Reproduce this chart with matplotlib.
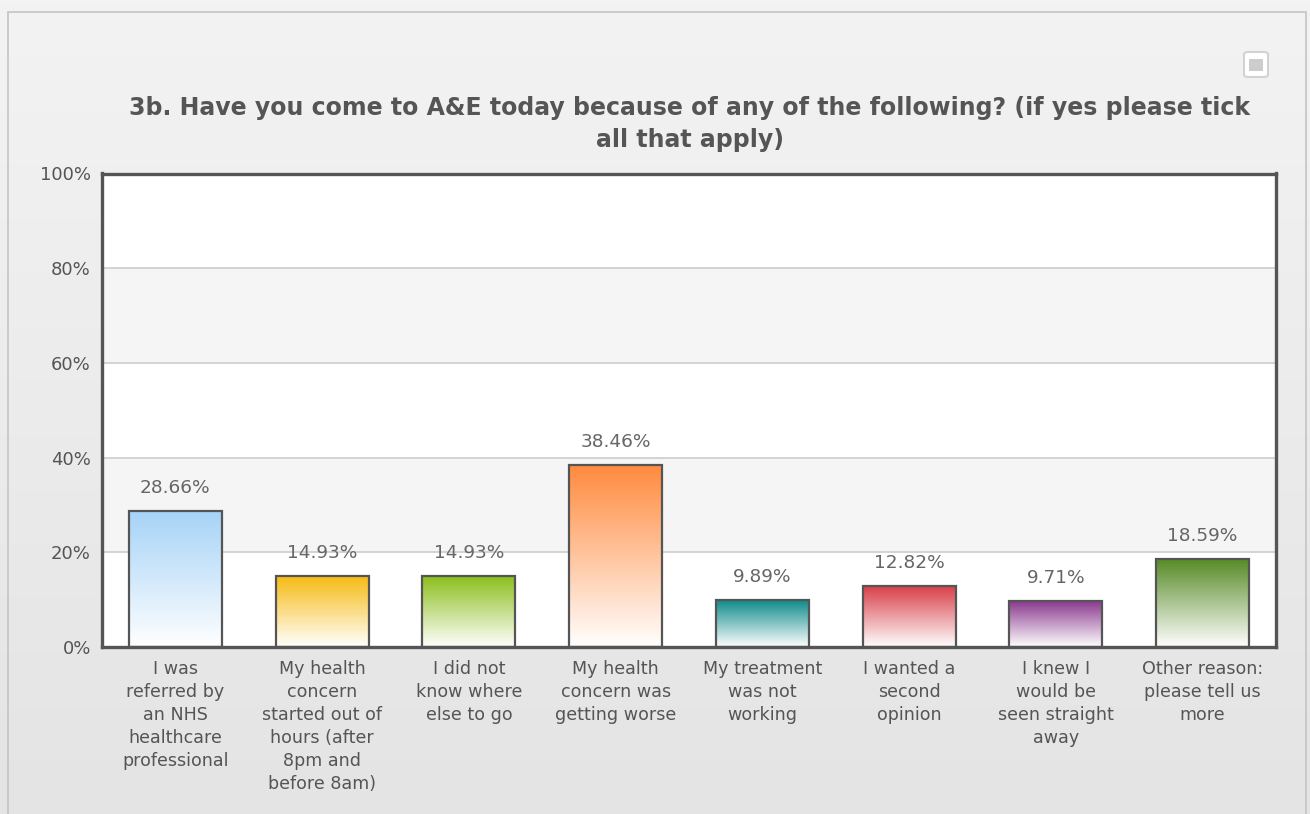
import matplotlib
matplotlib.use('Agg')
import matplotlib.pyplot as plt
import numpy as np
from matplotlib import patches, colors

categories = [
    'I was\nreferred by\nan NHS\nhealthcare\nprofessional',
    'My health\nconcern\nstarted out of\nhours (after\n8pm and\nbefore 8am)',
    'I did not\nknow where\nelse to go',
    'My health\nconcern was\ngetting worse',
    'My treatment\nwas not\nworking',
    'I wanted a\nsecond\nopinion',
    'I knew I\nwould be\nseen straight\naway',
    'Other reason:\nplease tell us\nmore',
]
values = [28.66, 14.93, 14.93, 38.46, 9.89, 12.82, 9.71, 18.59]
bar_colors = ['#a6d3f7', '#f6bb14', '#8cbf1c', '#ff8a3d',
              '#0f8a8a', '#d9404a', '#8a3a8e', '#568a24']
y_ticks = [0, 20, 40, 60, 80, 100]
title = ('3b. Have you come to A&E today because of any of the following? (if yes please tick\n'
         'all that apply)')

W, H = 1310, 814
fig = plt.figure(figsize=(W / 100, H / 100), dpi=100)

# panel background gradient
bg = fig.add_axes([0, 0, 1, 1], zorder=-10)
grad = np.linspace(0, 1, 256).reshape(-1, 1)
bg_cmap = colors.LinearSegmentedColormap.from_list('bg', ['#f3f3f3', '#e4e4e4'])
bg.imshow(grad, aspect='auto', cmap=bg_cmap, extent=[0, 1, 0, 1], origin='upper')
bg.set_xlim(0, 1)
bg.set_ylim(0, 1)
bg.axis('off')
# panel border
bg.add_patch(patches.Rectangle((8 / W, -0.01), (1306 - 8) / W, 1.01 - 12 / H,
                               fill=False, edgecolor='#c4c4c4', linewidth=1.2))
# export button
bg.add_patch(patches.FancyBboxPatch((1244 / W, (H - 77) / H), 24 / W, 25 / H,
                                    boxstyle='round,pad=0,rounding_size=0.003',
                                    facecolor='white', edgecolor='#d2d2d2', linewidth=1.5))
bg.add_patch(patches.Rectangle((1249 / W, (H - 71) / H), 14 / W, 12 / H,
                               facecolor='#cdcdcd', edgecolor='none'))

fig.text(690 / W, 1 - 96 / H, title, ha='center', va='top', fontsize=17,
         fontweight='bold', color='#555555', linespacing=1.4)

ax = fig.add_axes([102 / W, (H - 647) / H, (1276 - 102) / W, (647 - 173.5) / H])
ax.set_facecolor('white')

# alternating bands, white at the bottom
for i, lo in enumerate(y_ticks[:-1]):
    if i % 2 == 1:
        ax.add_patch(patches.Rectangle((-0.5, lo), len(values), y_ticks[i + 1] - lo,
                                       facecolor='#f5f5f5', edgecolor='none', zorder=0))
for t in y_ticks[1:-1]:
    ax.axhline(t, color='#d0d0d0', linewidth=1.3, zorder=1)

x = np.arange(len(values))
bars = ax.bar(x, values, width=0.635, facecolor='none', edgecolor='#555555',
              linewidth=1.6, zorder=3)
for b, c, v in zip(bars, bar_colors, values):
    cmap = colors.LinearSegmentedColormap.from_list('g', ['#ffffff', c])
    x0, w, h = b.get_x(), b.get_width(), b.get_height()
    im = ax.imshow(np.linspace(0, 1, 256).reshape(-1, 1), cmap=cmap, aspect='auto',
                   extent=[x0, x0 + w, 0, h], origin='lower', zorder=2)
    im.set_clip_path(b)
    ax.text(x0 + w / 2, h + 3.0, f'{v:.2f}%', ha='center', va='bottom',
            fontsize=13.3, color='#666666')
ax.set_xlim(-0.5, len(values) - 0.5)
ax.set_ylim(0, 100)

ax.set_xticks(x)
ax.set_xticklabels(categories, fontsize=12.6, color='#555555', linespacing=1.36, va='top')
ax.set_yticks(y_ticks)
ax.set_yticklabels([f'{t}%' for t in y_ticks], fontsize=13, color='#555555')
ax.tick_params(length=0, pad=8)
ax.tick_params(axis='x', pad=9.5)
for s in ax.spines.values():
    s.set_color('#555555')
    s.set_linewidth(2.4)
    s.set_zorder(5)

fig.savefig('out.png', dpi=100)
